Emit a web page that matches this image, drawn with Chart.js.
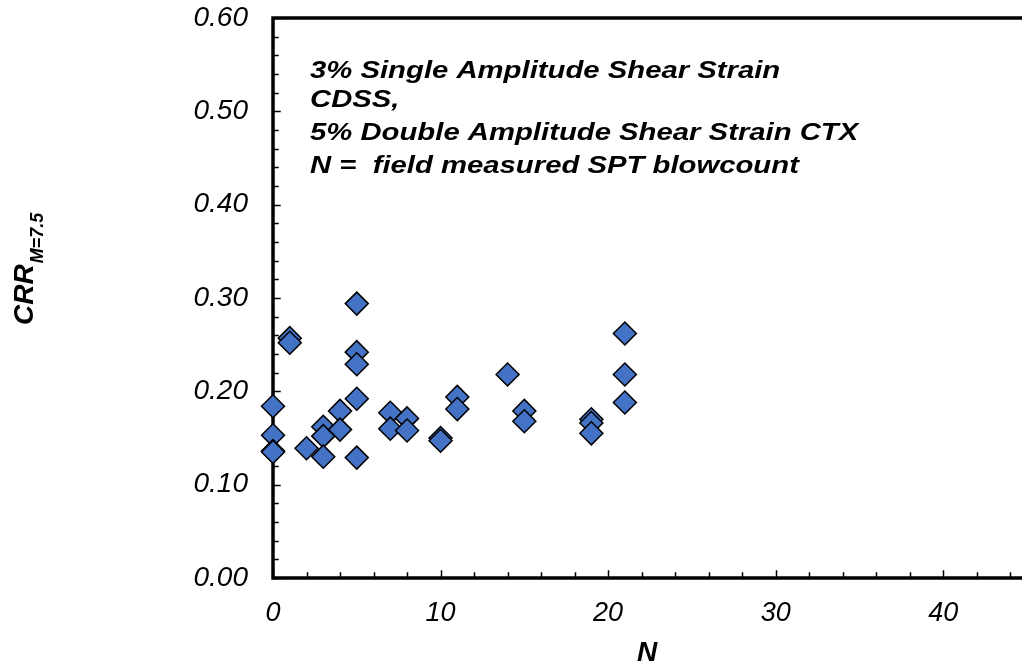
<!DOCTYPE html>
<html>
<head>
<meta charset="utf-8">
<title>CRR vs N</title>
<script src="https://cdn.jsdelivr.net/npm/chart.js@4"></script>
<style>
    html, body { margin: 0; padding: 0; background: #fff; overflow: hidden; }
    #wrap { width: 1040px; height: 670px; }
</style>
</head>
<body>
<div id="wrap"><canvas id="crrChart" width="1040" height="670"></canvas></div>
<script>
// -------------------------
// Data
// -------------------------
const blowcountN = [
    0, 0, 0, 0,
    1, 1,
    2,
    3, 3, 3,
    4, 4,
    5, 5, 5, 5, 5,
    7, 7,
    8, 8,
    10, 10,
    11, 11,
    14,
    15, 15,
    19, 19, 19,
    21, 21, 21
];
const crrValues = [
    0.184, 0.153, 0.136, 0.135,
    0.257, 0.252,
    0.139,
    0.162, 0.152, 0.130,
    0.179, 0.159,
    0.294, 0.242, 0.229, 0.192, 0.129,
    0.177, 0.160,
    0.171, 0.158,
    0.150, 0.147,
    0.194, 0.181,
    0.218,
    0.179, 0.168,
    0.170, 0.166, 0.155,
    0.262, 0.218, 0.188
];
const noteLines = [
    "3% Single Amplitude Shear Strain",
    "CDSS,",
    "5% Double Amplitude Shear Strain CTX",
    "N =  field measured SPT blowcount"
];
const xTitle = "N";
const yTitleMain = "CRR";
const yTitleSub = "M=7.5";

const X_MAX = 45;
const Y_MAX = 0.6;
const FONT = "'Liberation Sans', Arial, sans-serif";

// -------------------------
// Frame, inward ticks, texts
// -------------------------
const framePlugin = {
    id: "frame",
    beforeDatasetsDraw(chart) {
        const { ctx, chartArea: a, scales: { x, y } } = chart;
        ctx.save();
        ctx.strokeStyle = "#000";
        ctx.lineCap = "square";

        ctx.lineWidth = 1.5;
        ctx.beginPath();
        for (let v = 0; v <= X_MAX; v += 2) {
            const px = Math.round(x.getPixelForValue(v)) + 0.5;
            const len = v % 10 === 0 ? 7 : 5;
            ctx.moveTo(px, a.bottom);
            ctx.lineTo(px, a.bottom - len);
        }
        for (let i = 0; i <= 30; i++) {
            const py = Math.round(y.getPixelForValue(i * 0.02)) + 0.5;
            const len = i % 5 === 0 ? 7 : 5;
            ctx.moveTo(a.left, py);
            ctx.lineTo(a.left + len, py);
        }
        ctx.stroke();

        ctx.lineWidth = 3.5;
        ctx.strokeRect(a.left, a.top, a.right - a.left, a.bottom - a.top);
        ctx.restore();
    },
    afterDraw(chart) {
        const { ctx, chartArea: a } = chart;
        ctx.save();
        ctx.fillStyle = "#000";

        // note text (original is a bit wide)
        ctx.font = "italic bold 24px " + FONT;
        ctx.textAlign = "left";
        ctx.textBaseline = "alphabetic";
        const baselines = [78, 107, 140, 173];
        noteLines.forEach((t, i) => {
            ctx.save();
            ctx.translate(310, baselines[i]);
            ctx.scale(1.22, 1);
            ctx.fillText(t, 0, 0);
            ctx.restore();
        });

        // x title
        ctx.font = "italic bold 28px " + FONT;
        ctx.textAlign = "center";
        ctx.textBaseline = "middle";
        ctx.fillText(xTitle, (a.left + a.right) / 2 - 3, 653);

        // y title with subscript
        ctx.translate(33, 325);
        ctx.rotate(-Math.PI / 2);
        ctx.textAlign = "left";
        ctx.textBaseline = "alphabetic";
        ctx.font = "italic bold 28px " + FONT;
        ctx.fillText(yTitleMain, 0, 0);
        const w = ctx.measureText(yTitleMain).width;
        ctx.font = "italic bold 18px " + FONT;
        ctx.fillText(yTitleSub, w + 1, 10);

        ctx.restore();
    }
};

// -------------------------
// Chart
// -------------------------
const points = blowcountN.map((n, i) => ({ x: n, y: crrValues[i] }));

function noPad(scale) {
    scale.paddingTop = 0;
    scale.paddingBottom = 0;
    scale.paddingLeft = 0;
    scale.paddingRight = 0;
}

new Chart(document.getElementById("crrChart"), {
    type: "scatter",
    data: {
        datasets: [{
            data: points,
            pointStyle: "rectRot",
            pointRadius: 11.5,
            pointHoverRadius: 11.5,
            backgroundColor: "#4472C4",
            borderColor: "#000",
            borderWidth: 1.5,
            clip: false
        }]
    },
    options: {
        responsive: false,
        animation: false,
        devicePixelRatio: 1,
        layout: { padding: { top: 18, right: 10, left: 0, bottom: 0 } },
        plugins: {
            legend: { display: false },
            tooltip: { enabled: false }
        },
        scales: {
            x: {
                type: "linear",
                min: 0,
                max: X_MAX,
                grid: { display: false, drawTicks: false },
                border: { display: false },
                ticks: {
                    stepSize: 10,
                    autoSkip: false,
                    maxRotation: 0,
                    padding: 19,
                    color: "#000",
                    font: { family: FONT, size: 27, style: "italic" },
                    callback: v => (v % 10 === 0 ? String(v) : "")
                },
                afterFit(scale) { scale.height = 92; noPad(scale); }
            },
            y: {
                type: "linear",
                min: 0,
                max: Y_MAX,
                grid: { display: false, drawTicks: false },
                border: { display: false },
                ticks: {
                    stepSize: 0.1,
                    padding: 25,
                    color: "#000",
                    font: { family: FONT, size: 28, style: "italic" },
                    callback: v => v.toFixed(2)
                },
                afterFit(scale) { scale.width = 273; noPad(scale); }
            }
        }
    },
    plugins: [framePlugin]
});
</script>
</body>
</html>
